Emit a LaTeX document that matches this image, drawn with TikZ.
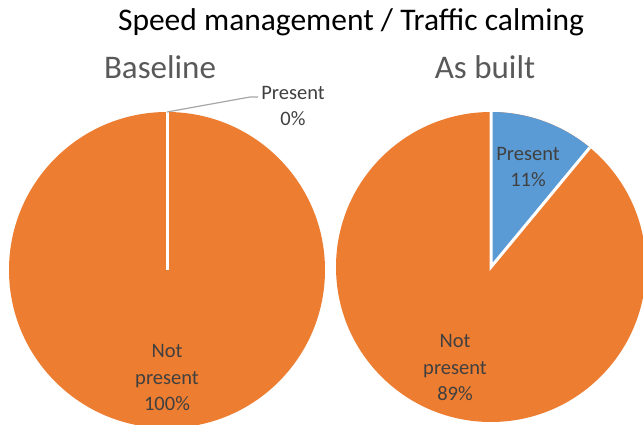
\documentclass[tikz,border=0pt]{standalone}
\usepackage{fontspec}
\setmainfont{Carlito}
\usetikzlibrary{calc}
\definecolor{pieorange}{HTML}{ED7D31}
\definecolor{pieblue}{HTML}{5B9BD5}
\definecolor{labelgray}{HTML}{404040}
\definecolor{subgray}{HTML}{595959}
\definecolor{leadgray}{HTML}{A6A6A6}
\tikzset{
  sep/.style={draw=white, line width=3pt},
  slicelabel/.style={text=labelgray, font=\fontsize{20.5}{26.5}\selectfont, align=center, inner sep=0pt},
  subtitle/.style={text=subgray, font=\fontsize{33}{36}\selectfont, inner sep=0pt},
  maintitle/.style={text=black, font=\fontsize{31.5}{34}\selectfont, inner sep=0pt}
}
\begin{document}
\begin{tikzpicture}[x=1pt,y=1pt]
\useasboundingbox (0,0) rectangle (643,-425);
\clip (0,0) rectangle (643,-425);
% left pie
\coordinate (c1) at (167,-270);
\fill[pieorange] (c1) circle[radius=158];
\coordinate (t1) at (167,-112);
\draw[sep] (c1) -- (t1);
% right pie
\coordinate (c2) at (491,-267);
\fill[pieorange] (c2) circle[radius=155];
\fill[pieblue] (c2) -- ++(90:155) arc[start angle=90, end angle=50.4, radius=155] -- cycle;
\coordinate (t2) at ($(c2)+(90:155)$);
\coordinate (e2) at ($(c2)+(50.4:155)$);
\draw[sep] (t2) -- (c2) -- (e2);
% titles
\node[maintitle] (title) at (351,-22) {Speed management / Traffic calming};
\node[subtitle] (base) at (160,-67) {Baseline};
\node[subtitle] (built) at (485,-67) {As built};
% labels
\node[slicelabel] (p0) at (293,-106) {Present\\0\%};
\coordinate (lead) at (258,-97);
\draw[leadgray, line width=1.2pt] (t1) -- (250,-97) -- (lead);
\node[slicelabel] (np1) at (167,-378) {Not\\present\\100\%};
\node[slicelabel] (p11) at (528,-167) {Present\\11\%};
\node[slicelabel] (np2) at (455,-368) {Not\\present\\89\%};
\end{tikzpicture}
\end{document}
